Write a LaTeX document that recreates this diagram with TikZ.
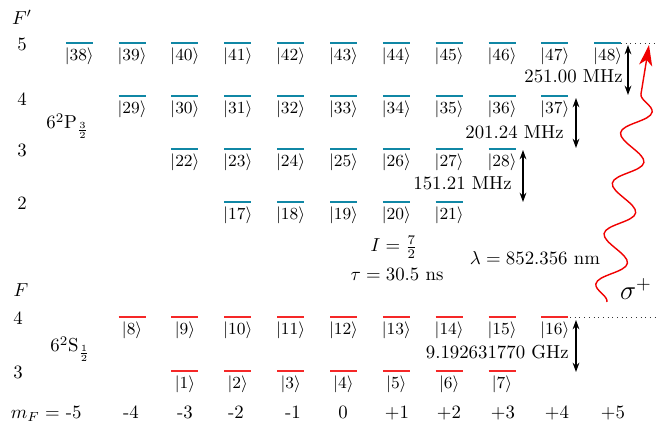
\documentclass[tikz,border=0pt]{standalone}
\usetikzlibrary{arrows.meta,decorations.pathmorphing}
\definecolor{teallev}{RGB}{16,135,165}
\definecolor{redlev}{RGB}{245,40,40}
\definecolor{wavered}{RGB}{240,0,0}
\begin{document}
\begin{tikzpicture}[x=0.01869cm,y=-0.01869cm,
  exc/.style={teallev,line width=1.3pt},
  gnd/.style={redlev,line width=1.3pt},
  ket/.style={anchor=north,inner sep=0pt,font=\fontsize{9.3}{11}\selectfont},
  dbl/.style={line width=0.6pt,{Stealth[length=5pt,width=3.6pt]}-{Stealth[length=5pt,width=3.6pt]}},
  dots/.style={dotted,line width=0.5pt,black!80},
  lbl/.style={inner sep=0pt},
  wave/.style={wavered,line width=0.75pt,-{Stealth[length=11pt,width=7pt,inset=3pt]},
    decorate,decoration={snake,amplitude=0.26cm,segment length=0.955cm,post length=0.5cm}}]
\useasboundingbox (0,0) rectangle (657,426);
% levels
\foreach \yy/\mm/\off/\st in {43/5/43/exc, 96/4/33/exc, 149/3/25/exc, 202/2/19/exc, 317/4/12/gnd, 371/3/4/gnd}{
  \pgfmathtruncatemacro{\lo}{-\mm}
  \foreach \m in {\lo,...,\mm}{
    \pgfmathtruncatemacro{\n}{\off+\m}
    \pgfmathsetmacro{\xx}{343.5+52.85*\m}
    \draw[\st] (\xx-13.5,\yy) -- (\xx+13.5,\yy);
    \node[ket] (k\n) at (\xx,\yy+4.5) {$|\n\rangle$};
  }
}
% dotted reference lines
\coordinate (d1a) at (621,43); \coordinate (d1b) at (656,43);
\coordinate (d2a) at (570,317); \coordinate (d2b) at (657,317);
\draw[dots] (d1a) -- (d1b);
\draw[dots] (d2a) -- (d2b);
% splitting arrows
\coordinate (a1t) at (628,45); \coordinate (a1b) at (628,95);
\coordinate (a2t) at (576,98); \coordinate (a2b) at (576,148);
\coordinate (a3t) at (523,150); \coordinate (a3b) at (523,202);
\coordinate (a4t) at (576,320); \coordinate (a4b) at (576,372);
\draw[dbl] (a1t) -- (a1b);
\draw[dbl] (a2t) -- (a2b);
\draw[dbl] (a3t) -- (a3b);
\draw[dbl] (a4t) -- (a4b);
\node[lbl,anchor=base east] (f1) at (623,83) {251.00 MHz};
\node[lbl,anchor=base east] (f2) at (564,138.5) {201.24 MHz};
\node[lbl,anchor=base east] (f3) at (512,190) {151.21 MHz};
\node[lbl,anchor=base east] (f4) at (569,359) {9.192631770 GHz};
% left labels
\node[lbl] (Fp) at (22,17) {$F'$};
\node[lbl] (e5) at (22,44) {5};
\node[lbl] (e4) at (22,99.5) {4};
\node[lbl] (e3) at (22,150.5) {3};
\node[lbl] (e2) at (22,203.5) {2};
\node[lbl,anchor=base west] (P) at (46,129) {$6^2\mathrm{P}_{\frac{3}{2}}$};
\node[lbl] (F) at (21,290) {$F$};
\node[lbl] (g4) at (18,318) {4};
\node[lbl] (g3) at (18,372) {3};
\node[lbl,anchor=base west] (S) at (50,352) {$6^2\mathrm{S}_{\frac{1}{2}}$};
% m_F row
\node[lbl,anchor=base east] (mF) at (82,419) {$m_F =$ -5};
\foreach \xx/\t [count=\i] in {131/-4, 185/-3, 236/-2, 293/-1, 343/0, 397/$+1$, 449/$+2$, 503/$+3$, 557/$+4$, 613/$+5$}{
  \node[lbl,anchor=base] (m\i) at (\xx,419) {\t};
}
% constants
\node[lbl] (I) at (394,247) {$I = \frac{7}{2}$};
\node[lbl,anchor=base] (tau) at (397,281) {$\tau = 30.5$ ns};
\node[lbl,anchor=base] (lam) at (535,265) {$\lambda = 852.356$ nm};
\node[lbl] (sig) at (636,289) {\Large $\sigma^+$};
% photon
\coordinate (ws) at (607,302);
\coordinate (we) at (649,45);
\draw[wave] (ws) -- (we);
\end{tikzpicture}
\end{document}
